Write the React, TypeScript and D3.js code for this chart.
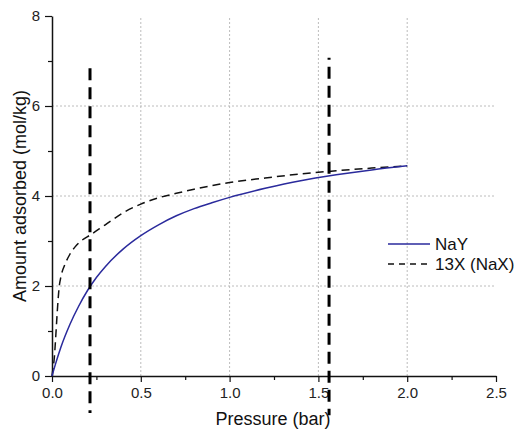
import React, { useRef, useEffect } from "react";
import * as d3 from "d3";

// isotherm data (pressure in bar, loading in mol/kg)
const nayPressure = [0, 0.02, 0.05, 0.1, 0.15, 0.2, 0.25, 0.3, 0.4, 0.5, 0.6, 0.7, 0.8, 0.9, 1.0, 1.2, 1.4, 1.6, 1.8, 2.0];
const nayLoading = [0, 0.27, 0.64, 1.14, 1.55, 1.9, 2.19, 2.43, 2.82, 3.12, 3.36, 3.56, 3.72, 3.85, 3.97, 4.17, 4.34, 4.47, 4.58, 4.67];

const naxPressure = [0, 0.005, 0.012, 0.023, 0.03, 0.041, 0.05, 0.075, 0.1, 0.13, 0.17, 0.214, 0.3, 0.41, 0.5, 0.6, 0.7, 0.8, 0.9, 1.0, 1.2, 1.4, 1.6, 1.8, 2.0];
const naxLoading = [0, 0.15, 0.36, 1.0, 1.45, 2.0, 2.2, 2.5, 2.7, 2.87, 3.02, 3.13, 3.36, 3.65, 3.82, 3.96, 4.06, 4.15, 4.23, 4.3, 4.4, 4.49, 4.56, 4.62, 4.67];

// thick dashed marker lines: pressure and vertical extent (mol/kg)
const markerPressure = [0.214, 1.56];
const markerTop = [6.84, 7.07];
const markerBottom = [-0.82, -0.87];

const xTicks = [0, 0.5, 1.0, 1.5, 2.0, 2.5];
const yTicks = [0, 2, 4, 6, 8];
const seriesNames = ["NaY", "13X (NaX)"];

const W = 525, H = 430;
const margin = { top: 16, right: 29, bottom: 54, left: 52 };
const font = "'Liberation Sans', Arial, sans-serif";
const blue = "#2a2a9c";

export default function App() {
  const svgRef = useRef<SVGSVGElement>(null);

  useEffect(() => {
    const svg = d3.select(svgRef.current);
    svg.selectAll("*").remove();

    const x = d3.scaleLinear().domain([0, 2.5]).range([margin.left, W - margin.right]);
    const y = d3.scaleLinear().domain([0, 8]).range([H - margin.bottom, margin.top]);

    // grid
    const grid = svg.append("g").attr("stroke", "#bcbcbc").attr("stroke-width", 1).attr("stroke-dasharray", "2,2");
    grid.selectAll(".vg").data(xTicks.slice(1, 5)).join("line")
      .attr("x1", d => x(d)).attr("x2", d => x(d))
      .attr("y1", y(0)).attr("y2", y(8));
    grid.selectAll(".hg").data(yTicks.slice(1, 4)).join("line")
      .attr("x1", x(0)).attr("x2", x(2.5))
      .attr("y1", d => y(d)).attr("y2", d => y(d));

    // axes
    const xAxis = svg.append("g").attr("transform", `translate(0,${y(0)})`)
      .call(d3.axisBottom(x).tickValues(xTicks).tickFormat(d3.format(".1f")).tickSize(6).tickSizeOuter(0));
    svg.append("g").attr("transform", `translate(0,${y(0)})`)
      .call(d3.axisBottom(x).tickValues(d3.range(0.25, 2.5, 0.5)).tickFormat(() => "").tickSize(4).tickSizeOuter(0))
      .select(".domain").remove();
    const yAxis = svg.append("g").attr("transform", `translate(${x(0)},0)`)
      .call(d3.axisLeft(y).tickValues(yTicks).tickSize(7).tickSizeOuter(0));
    svg.append("g").attr("transform", `translate(${x(0)},0)`)
      .call(d3.axisLeft(y).tickValues([1, 3, 5, 7]).tickFormat(() => "").tickSize(4).tickSizeOuter(0))
      .select(".domain").remove();

    svg.selectAll(".domain").attr("stroke", "#111").attr("stroke-width", 1.5);
    svg.selectAll(".tick line").attr("stroke", "#111").attr("stroke-width", 1.2);
    xAxis.selectAll("text").attr("font-family", font).attr("font-size", 15).attr("fill", "#222").attr("dy", "0.85em");
    yAxis.selectAll("text").attr("font-family", font).attr("font-size", 15).attr("fill", "#222").attr("x", -12);

    // curves
    const lineGen = d3.line<[number, number]>()
      .x(d => x(d[0])).y(d => y(d[1])).curve(d3.curveMonotoneX);
    const nay = nayPressure.map((p, i) => [p, nayLoading[i]] as [number, number]);
    const nax = naxPressure.map((p, i) => [p, naxLoading[i]] as [number, number]);

    svg.append("path").datum(nax).attr("d", lineGen)
      .attr("fill", "none").attr("stroke", "#111").attr("stroke-width", 1.5).attr("stroke-dasharray", "8,5");
    svg.append("path").datum(nay).attr("d", lineGen)
      .attr("fill", "none").attr("stroke", blue).attr("stroke-width", 1.5);

    // marker lines
    svg.selectAll(".marker").data(markerPressure).join("line")
      .attr("x1", d => x(d)).attr("x2", d => x(d))
      .attr("y1", (d, i) => y(markerTop[i])).attr("y2", (d, i) => y(markerBottom[i]))
      .attr("stroke", "#000").attr("stroke-width", 3)
      .attr("stroke-dasharray", "12,7")
      .attr("stroke-dashoffset", (d, i) => (i === 1 ? 10 : 0));

    // legend
    const lg = svg.append("g").attr("font-family", font).attr("font-size", 17).attr("fill", "#111");
    lg.append("line").attr("x1", 388).attr("x2", 430).attr("y1", 244).attr("y2", 244)
      .attr("stroke", blue).attr("stroke-width", 1.5);
    lg.append("line").attr("x1", 388).attr("x2", 430).attr("y1", 264).attr("y2", 264)
      .attr("stroke", "#111").attr("stroke-width", 1.5).attr("stroke-dasharray", "6,5");
    lg.append("text").attr("x", 435).attr("y", 250).text(seriesNames[0]);
    lg.append("text").attr("x", 435).attr("y", 270).text(seriesNames[1]);

    // axis titles
    svg.append("text").attr("x", (x(0) + x(2.5)) / 2 - 1).attr("y", 425)
      .attr("text-anchor", "middle").attr("font-family", font).attr("font-size", 18).attr("fill", "#111")
      .text("Pressure (bar)");
    svg.append("text").attr("transform", `translate(26,${y(4)}) rotate(-90)`)
      .attr("text-anchor", "middle").attr("font-family", font).attr("font-size", 18).attr("fill", "#111")
      .text("Amount adsorbed (mol/kg)");
  }, []);

  return (
    <svg ref={svgRef} width={W} height={H}
      style={{ position: "absolute", left: 0, top: 0, background: "#fff" }} />
  );
}
